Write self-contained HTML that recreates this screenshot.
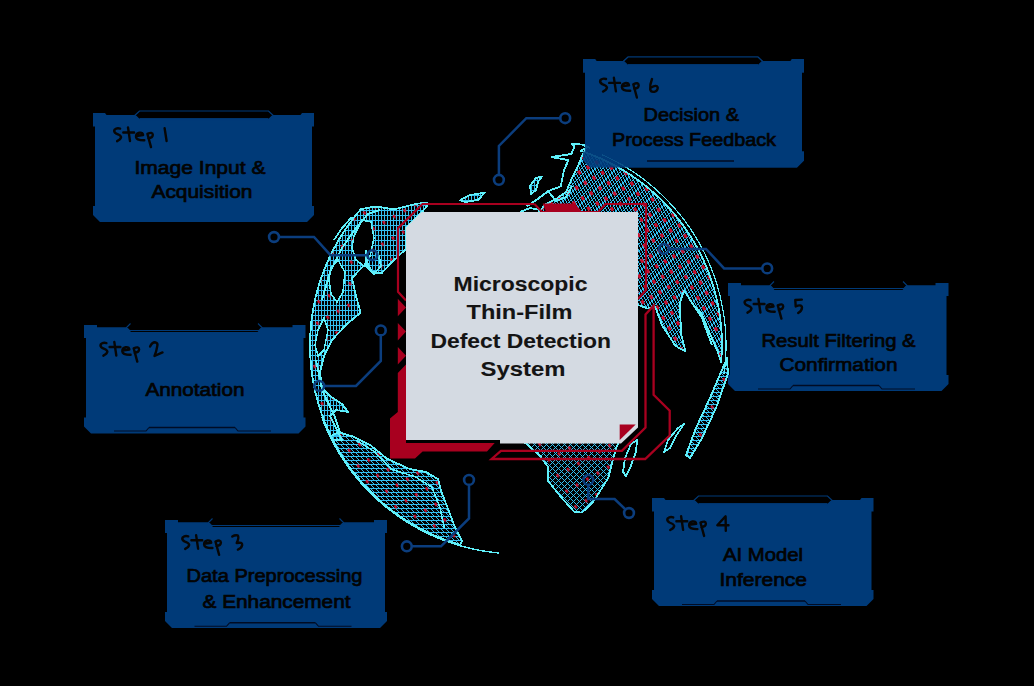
<!DOCTYPE html>
<html><head><meta charset="utf-8"><style>
html,body{margin:0;padding:0;background:#000;width:1034px;height:686px;overflow:hidden}
svg{display:block}
text{font-family:"Liberation Sans",sans-serif}
</style></head><body>
<svg width="1034" height="686" viewBox="0 0 1034 686">
<rect width="1034" height="686" fill="#000"/>
<path d="M583,59 H595 L596.5,61 H790.5 L792,59 H804 V72.5 H802 V151.5 H804 V160.5 L797,167.5 H590 L583,160.5 V151.5 H585 V72.5 H583 Z" fill="#003a78"/><path d="M623.5,61.2 L628.0,57 H758.0 L762.5,61.2 L758.0,65.6 H628.0 Z" fill="#000" stroke="#003a78" stroke-width="1.2"/><path d="M628.0,64.6 H758.0" stroke="#003a78" stroke-width="1"/><path d="M647,161 H734" stroke="#000c24" stroke-width="1.5"/>
<defs>
<pattern id="grid" width="21" height="42" patternUnits="userSpaceOnUse"><path d="M0,0h1v1h-1zM3,0h1v1h-1zM6,0h1v1h-1zM7,0h1v1h-1zM9,0h1v1h-1zM12,0h1v1h-1zM14,0h1v1h-1zM15,0h1v1h-1zM18,0h1v1h-1zM1,1h1v1h-1zM4,1h1v1h-1zM6,1h1v1h-1zM7,1h1v1h-1zM10,1h1v1h-1zM13,1h1v1h-1zM16,1h1v1h-1zM19,1h1v1h-1zM20,1h1v1h-1zM1,2h1v1h-1zM4,2h1v1h-1zM5,2h1v1h-1zM7,2h1v1h-1zM10,2h1v1h-1zM12,2h1v1h-1zM13,2h1v1h-1zM16,2h1v1h-1zM19,2h1v1h-1zM2,3h1v1h-1zM4,3h1v1h-1zM5,3h1v1h-1zM8,3h1v1h-1zM11,3h1v1h-1zM14,3h1v1h-1zM17,3h1v1h-1zM18,3h1v1h-1zM20,3h1v1h-1zM2,4h1v1h-1zM3,4h1v1h-1zM5,4h1v1h-1zM8,4h1v1h-1zM10,4h1v1h-1zM11,4h1v1h-1zM14,4h1v1h-1zM17,4h1v1h-1zM20,4h1v1h-1zM0,5h1v1h-1zM2,5h1v1h-1zM3,5h1v1h-1zM6,5h1v1h-1zM9,5h1v1h-1zM12,5h1v1h-1zM15,5h1v1h-1zM16,5h1v1h-1zM18,5h1v1h-1zM0,6h1v1h-1zM1,6h1v1h-1zM3,6h1v1h-1zM6,6h1v1h-1zM8,6h1v1h-1zM9,6h1v1h-1zM12,6h1v1h-1zM15,6h1v1h-1zM18,6h1v1h-1zM0,7h1v1h-1zM1,7h1v1h-1zM4,7h1v1h-1zM7,7h1v1h-1zM10,7h1v1h-1zM13,7h1v1h-1zM14,7h1v1h-1zM16,7h1v1h-1zM19,7h1v1h-1zM1,8h1v1h-1zM4,8h1v1h-1zM6,8h1v1h-1zM7,8h1v1h-1zM10,8h1v1h-1zM13,8h1v1h-1zM16,8h1v1h-1zM19,8h1v1h-1zM20,8h1v1h-1zM2,9h1v1h-1zM5,9h1v1h-1zM8,9h1v1h-1zM11,9h1v1h-1zM12,9h1v1h-1zM14,9h1v1h-1zM17,9h1v1h-1zM19,9h1v1h-1zM20,9h1v1h-1zM2,10h1v1h-1zM4,10h1v1h-1zM5,10h1v1h-1zM8,10h1v1h-1zM11,10h1v1h-1zM14,10h1v1h-1zM17,10h1v1h-1zM18,10h1v1h-1zM20,10h1v1h-1zM0,11h1v1h-1zM3,11h1v1h-1zM6,11h1v1h-1zM9,11h1v1h-1zM10,11h1v1h-1zM12,11h1v1h-1zM15,11h1v1h-1zM17,11h1v1h-1zM18,11h1v1h-1zM0,12h1v1h-1zM2,12h1v1h-1zM3,12h1v1h-1zM6,12h1v1h-1zM9,12h1v1h-1zM12,12h1v1h-1zM15,12h1v1h-1zM16,12h1v1h-1zM18,12h1v1h-1zM1,13h1v1h-1zM4,13h1v1h-1zM7,13h1v1h-1zM8,13h1v1h-1zM10,13h1v1h-1zM13,13h1v1h-1zM15,13h1v1h-1zM16,13h1v1h-1zM19,13h1v1h-1zM0,14h1v1h-1zM1,14h1v1h-1zM4,14h1v1h-1zM7,14h1v1h-1zM10,14h1v1h-1zM13,14h1v1h-1zM14,14h1v1h-1zM16,14h1v1h-1zM19,14h1v1h-1zM2,15h1v1h-1zM5,15h1v1h-1zM6,15h1v1h-1zM8,15h1v1h-1zM11,15h1v1h-1zM13,15h1v1h-1zM14,15h1v1h-1zM17,15h1v1h-1zM20,15h1v1h-1zM2,16h1v1h-1zM5,16h1v1h-1zM8,16h1v1h-1zM11,16h1v1h-1zM12,16h1v1h-1zM14,16h1v1h-1zM17,16h1v1h-1zM19,16h1v1h-1zM20,16h1v1h-1zM0,17h1v1h-1zM3,17h1v1h-1zM4,17h1v1h-1zM6,17h1v1h-1zM9,17h1v1h-1zM11,17h1v1h-1zM12,17h1v1h-1zM15,17h1v1h-1zM18,17h1v1h-1zM0,18h1v1h-1zM3,18h1v1h-1zM6,18h1v1h-1zM9,18h1v1h-1zM10,18h1v1h-1zM12,18h1v1h-1zM15,18h1v1h-1zM17,18h1v1h-1zM18,18h1v1h-1zM1,19h1v1h-1zM2,19h1v1h-1zM4,19h1v1h-1zM7,19h1v1h-1zM9,19h1v1h-1zM10,19h1v1h-1zM13,19h1v1h-1zM16,19h1v1h-1zM19,19h1v1h-1zM1,20h1v1h-1zM4,20h1v1h-1zM7,20h1v1h-1zM8,20h1v1h-1zM10,20h1v1h-1zM13,20h1v1h-1zM15,20h1v1h-1zM16,20h1v1h-1zM19,20h1v1h-1zM0,21h1v1h-1zM2,21h1v1h-1zM5,21h1v1h-1zM7,21h1v1h-1zM8,21h1v1h-1zM11,21h1v1h-1zM14,21h1v1h-1zM17,21h1v1h-1zM20,21h1v1h-1zM2,22h1v1h-1zM5,22h1v1h-1zM6,22h1v1h-1zM8,22h1v1h-1zM11,22h1v1h-1zM13,22h1v1h-1zM14,22h1v1h-1zM17,22h1v1h-1zM20,22h1v1h-1zM0,23h1v1h-1zM3,23h1v1h-1zM5,23h1v1h-1zM6,23h1v1h-1zM9,23h1v1h-1zM12,23h1v1h-1zM15,23h1v1h-1zM18,23h1v1h-1zM19,23h1v1h-1zM0,24h1v1h-1zM3,24h1v1h-1zM4,24h1v1h-1zM6,24h1v1h-1zM9,24h1v1h-1zM11,24h1v1h-1zM12,24h1v1h-1zM15,24h1v1h-1zM18,24h1v1h-1zM1,25h1v1h-1zM3,25h1v1h-1zM4,25h1v1h-1zM7,25h1v1h-1zM10,25h1v1h-1zM13,25h1v1h-1zM16,25h1v1h-1zM17,25h1v1h-1zM19,25h1v1h-1zM1,26h1v1h-1zM2,26h1v1h-1zM4,26h1v1h-1zM7,26h1v1h-1zM9,26h1v1h-1zM10,26h1v1h-1zM13,26h1v1h-1zM16,26h1v1h-1zM19,26h1v1h-1zM1,27h1v1h-1zM2,27h1v1h-1zM5,27h1v1h-1zM8,27h1v1h-1zM11,27h1v1h-1zM14,27h1v1h-1zM15,27h1v1h-1zM17,27h1v1h-1zM20,27h1v1h-1zM0,28h1v1h-1zM2,28h1v1h-1zM5,28h1v1h-1zM7,28h1v1h-1zM8,28h1v1h-1zM11,28h1v1h-1zM14,28h1v1h-1zM17,28h1v1h-1zM20,28h1v1h-1zM0,29h1v1h-1zM3,29h1v1h-1zM6,29h1v1h-1zM9,29h1v1h-1zM12,29h1v1h-1zM13,29h1v1h-1zM15,29h1v1h-1zM18,29h1v1h-1zM20,29h1v1h-1zM0,30h1v1h-1zM3,30h1v1h-1zM5,30h1v1h-1zM6,30h1v1h-1zM9,30h1v1h-1zM12,30h1v1h-1zM15,30h1v1h-1zM18,30h1v1h-1zM19,30h1v1h-1zM1,31h1v1h-1zM4,31h1v1h-1zM7,31h1v1h-1zM10,31h1v1h-1zM11,31h1v1h-1zM13,31h1v1h-1zM16,31h1v1h-1zM18,31h1v1h-1zM19,31h1v1h-1zM1,32h1v1h-1zM3,32h1v1h-1zM4,32h1v1h-1zM7,32h1v1h-1zM10,32h1v1h-1zM13,32h1v1h-1zM16,32h1v1h-1zM17,32h1v1h-1zM19,32h1v1h-1zM2,33h1v1h-1zM5,33h1v1h-1zM8,33h1v1h-1zM9,33h1v1h-1zM11,33h1v1h-1zM14,33h1v1h-1zM16,33h1v1h-1zM17,33h1v1h-1zM20,33h1v1h-1zM1,34h1v1h-1zM2,34h1v1h-1zM5,34h1v1h-1zM8,34h1v1h-1zM11,34h1v1h-1zM14,34h1v1h-1zM15,34h1v1h-1zM17,34h1v1h-1zM20,34h1v1h-1zM0,35h1v1h-1zM3,35h1v1h-1zM6,35h1v1h-1zM7,35h1v1h-1zM9,35h1v1h-1zM12,35h1v1h-1zM14,35h1v1h-1zM15,35h1v1h-1zM18,35h1v1h-1zM0,36h1v1h-1zM3,36h1v1h-1zM6,36h1v1h-1zM9,36h1v1h-1zM12,36h1v1h-1zM13,36h1v1h-1zM15,36h1v1h-1zM18,36h1v1h-1zM20,36h1v1h-1zM1,37h1v1h-1zM4,37h1v1h-1zM5,37h1v1h-1zM7,37h1v1h-1zM10,37h1v1h-1zM12,37h1v1h-1zM13,37h1v1h-1zM16,37h1v1h-1zM19,37h1v1h-1zM1,38h1v1h-1zM4,38h1v1h-1zM7,38h1v1h-1zM10,38h1v1h-1zM11,38h1v1h-1zM13,38h1v1h-1zM16,38h1v1h-1zM18,38h1v1h-1zM19,38h1v1h-1zM2,39h1v1h-1zM3,39h1v1h-1zM5,39h1v1h-1zM8,39h1v1h-1zM10,39h1v1h-1zM11,39h1v1h-1zM14,39h1v1h-1zM17,39h1v1h-1zM20,39h1v1h-1zM2,40h1v1h-1zM5,40h1v1h-1zM8,40h1v1h-1zM9,40h1v1h-1zM11,40h1v1h-1zM14,40h1v1h-1zM16,40h1v1h-1zM17,40h1v1h-1zM20,40h1v1h-1zM0,41h1v1h-1zM1,41h1v1h-1zM3,41h1v1h-1zM6,41h1v1h-1zM8,41h1v1h-1zM9,41h1v1h-1zM12,41h1v1h-1zM15,41h1v1h-1zM18,41h1v1h-1z" fill="#33bef0" shape-rendering="crispEdges"/></pattern>
<pattern id="gridA" width="3" height="5" patternUnits="userSpaceOnUse"><path d="M0,0h1v1h-1zM1,0h1v1h-1zM2,0h1v1h-1zM0,1h1v1h-1zM0,2h1v1h-1zM0,3h1v1h-1zM0,4h1v1h-1z" fill="#33bef0" shape-rendering="crispEdges"/></pattern>
<pattern id="grid2" width="5" height="4" patternUnits="userSpaceOnUse"><path d="M0,0h1v1h-1zM1,0h1v1h-1zM2,0h1v1h-1zM3,0h1v1h-1zM4,0h1v1h-1zM1,1h1v1h-1zM2,2h1v1h-1zM3,3h1v1h-1z" fill="#33bef0" shape-rendering="crispEdges"/></pattern>
<pattern id="gridD" width="6" height="6" patternUnits="userSpaceOnUse"><path d="M0,0h1v1h-1zM1,1h1v1h-1zM5,1h1v1h-1zM2,2h1v1h-1zM4,2h1v1h-1zM3,3h1v1h-1zM2,4h1v1h-1zM4,4h1v1h-1zM1,5h1v1h-1zM5,5h1v1h-1z" fill="#33bef0" shape-rendering="crispEdges"/></pattern>
<pattern shape-rendering="crispEdges" id="reddash" width="10" height="12" patternUnits="userSpaceOnUse" patternTransform="rotate(-30)">
<rect x="4" y="5" width="2.6" height="4" fill="#c8102e"/>
</pattern>
<pattern id="reddash2" width="12" height="18" patternUnits="userSpaceOnUse" patternTransform="rotate(-30)">
<rect x="4" y="5" width="2.4" height="3.4" fill="#c8102e"/>
</pattern>
</defs>
<g id="globe" shape-rendering="crispEdges">
<path d="M427.0,203.0 L418.0,203.5 L410.0,205.4 L394.0,209.4 L380.0,207.0 L371.7,207.0 L360.9,209.2 L356.2,214.7 L351.8,220.4 L347.5,226.3 L343.5,232.3 L339.6,238.4 L336.0,244.7 L332.6,251.1 L329.4,257.6 L326.5,264.2 L323.8,270.9 L321.3,277.7 L319.1,284.6 L317.1,291.6 L315.3,298.6 L313.8,305.7 L312.6,312.8 L311.5,320.0 L310.8,327.2 L310.3,334.4 L310.0,341.7 L310.0,348.9 L310.3,356.2 L310.8,363.4 L311.5,370.6 L312.6,377.8 L313.8,384.9 L315.3,392.0 L317.1,399.0 L319.1,406.0 L321.3,412.9 L323.8,419.7 L326.5,426.4 L329.4,433.0 L332.6,439.5 L342.0,440.0 L336.0,428.0 L330.0,416.0 L336.0,410.0 L348.0,412.0 L342.0,404.0 L330.0,396.0 L322.0,388.0 L320.0,372.0 L324.0,356.0 L332.0,340.0 L346.6,324.3 L360.6,312.6 L356.0,296.0 L352.0,278.0 L366.9,262.3 L371.7,271.9 L381.3,273.5 L391.0,263.0 L406.0,249.0 L406.0,228.0 L422.0,212.0 L427.0,206.0 Z" fill="url(#gridA)"/>
<path d="M427.0,203.0 L418.0,203.5 L410.0,205.4 L394.0,209.4 L380.0,207.0 L371.7,207.0 L360.9,209.2 L356.2,214.7 L351.8,220.4 L347.5,226.3 L343.5,232.3 L339.6,238.4 L336.0,244.7 L332.6,251.1 L329.4,257.6 L326.5,264.2 L323.8,270.9 L321.3,277.7 L319.1,284.6 L317.1,291.6 L315.3,298.6 L313.8,305.7 L312.6,312.8 L311.5,320.0 L310.8,327.2 L310.3,334.4 L310.0,341.7 L310.0,348.9 L310.3,356.2 L310.8,363.4 L311.5,370.6 L312.6,377.8 L313.8,384.9 L315.3,392.0 L317.1,399.0 L319.1,406.0 L321.3,412.9 L323.8,419.7 L326.5,426.4 L329.4,433.0 L332.6,439.5 L342.0,440.0 L336.0,428.0 L330.0,416.0 L336.0,410.0 L348.0,412.0 L342.0,404.0 L330.0,396.0 L322.0,388.0 L320.0,372.0 L324.0,356.0 L332.0,340.0 L346.6,324.3 L360.6,312.6 L356.0,296.0 L352.0,278.0 L366.9,262.3 L371.7,271.9 L381.3,273.5 L391.0,263.0 L406.0,249.0 L406.0,228.0 L422.0,212.0 L427.0,206.0 Z" fill="url(#reddash2)"/>
<path d="M538.0,212.7 L546.0,204.0 L556.0,199.0 L566.0,192.0 L572.0,178.0 L578.0,166.0 L582.0,156.0 L586.0,148.0 L580.7,150.8 L587.4,153.1 L594.1,155.7 L600.7,158.5 L607.1,161.5 L613.5,164.7 L619.8,168.2 L625.9,171.9 L631.9,175.8 L637.7,179.9 L643.4,184.2 L649.0,188.6 L654.3,193.3 L659.6,198.2 L664.6,203.2 L669.5,208.5 L674.2,213.8 L678.6,219.4 L682.9,225.1 L687.0,230.9 L690.9,236.9 L694.6,243.1 L698.1,249.3 L701.3,255.7 L704.3,262.1 L707.1,268.7 L709.7,275.4 L712.0,282.1 L714.1,288.9 L715.9,295.8 L717.5,302.8 L718.9,309.8 L720.0,316.8 L720.9,323.9 L721.5,331.0 L721.9,338.2 L722.0,345.3 L721.9,352.4 L721.0,362.0 L717.6,351.6 L708.9,331.2 L701.6,313.7 L694.3,306.4 L684.1,290.4 L679.7,303.5 L681.2,334.0 L685.6,351.6 L675.4,345.8 L662.2,325.4 L655.0,306.4 L647.7,308.6 L638.2,305.0 L620.0,305.0 L620.0,212.7 Z" fill="url(#grid)"/>
<path d="M538.0,212.7 L546.0,204.0 L556.0,199.0 L566.0,192.0 L572.0,178.0 L578.0,166.0 L582.0,156.0 L586.0,148.0 L580.7,150.8 L587.4,153.1 L594.1,155.7 L600.7,158.5 L607.1,161.5 L613.5,164.7 L619.8,168.2 L625.9,171.9 L631.9,175.8 L637.7,179.9 L643.4,184.2 L649.0,188.6 L654.3,193.3 L659.6,198.2 L664.6,203.2 L669.5,208.5 L674.2,213.8 L678.6,219.4 L682.9,225.1 L687.0,230.9 L690.9,236.9 L694.6,243.1 L698.1,249.3 L701.3,255.7 L704.3,262.1 L707.1,268.7 L709.7,275.4 L712.0,282.1 L714.1,288.9 L715.9,295.8 L717.5,302.8 L718.9,309.8 L720.0,316.8 L720.9,323.9 L721.5,331.0 L721.9,338.2 L722.0,345.3 L721.9,352.4 L721.0,362.0 L717.6,351.6 L708.9,331.2 L701.6,313.7 L694.3,306.4 L684.1,290.4 L679.7,303.5 L681.2,334.0 L685.6,351.6 L675.4,345.8 L662.2,325.4 L655.0,306.4 L647.7,308.6 L638.2,305.0 L620.0,305.0 L620.0,212.7 Z" fill="url(#reddash)"/>
<path d="M460.0,200.3 L470.0,195.0 L484.9,192.6 L478.0,200.0 L465.0,202.0 Z" fill="url(#gridA)"/>
<path d="M460.0,200.3 L470.0,195.0 L484.9,192.6 L478.0,200.0 L465.0,202.0 Z" fill="url(#reddash2)"/>
<path d="M531.0,194.0 L530.0,186.0 L536.0,178.0 L542.0,176.4 L538.0,182.0 L536.0,190.0 Z" fill="url(#gridA)"/>
<path d="M531.0,194.0 L530.0,186.0 L536.0,178.0 L542.0,176.4 L538.0,182.0 L536.0,190.0 Z" fill="url(#reddash2)"/>
<path d="M727.0,358.0 L728.0,374.0 L716.0,408.0 L702.0,438.0 L690.0,458.0 L686.0,455.0 L696.0,428.0 L710.0,398.0 L721.0,372.0 Z" fill="url(#grid2)"/>
<path d="M727.0,358.0 L728.0,374.0 L716.0,408.0 L702.0,438.0 L690.0,458.0 L686.0,455.0 L696.0,428.0 L710.0,398.0 L721.0,372.0 Z" fill="url(#reddash2)"/>
<path d="M338.2,432.2 L352.4,436.3 L370.8,445.5 L387.0,458.8 L409.6,469.0 L426.0,472.0 L438.2,479.2 L441.2,491.4 L448.4,509.8 L454.5,526.0 L462.0,541.0 L460.3,544.8 L453.4,542.6 L446.5,540.3 L439.8,537.7 L433.1,534.9 L426.5,531.8 L420.1,528.5 L413.8,525.0 L407.5,521.3 L401.5,517.3 L395.5,513.2 L389.8,508.8 L384.1,504.3 L378.7,499.5 L373.4,494.6 L368.2,489.4 L363.3,484.1 L358.5,478.7 L354.0,473.0 L349.6,467.3 L345.5,461.3 L341.5,455.3 L337.8,449.1 L334.3,442.7 L331.0,436.3 Z" fill="url(#grid2)"/>
<path d="M338.2,432.2 L352.4,436.3 L370.8,445.5 L387.0,458.8 L409.6,469.0 L426.0,472.0 L438.2,479.2 L441.2,491.4 L448.4,509.8 L454.5,526.0 L462.0,541.0 L460.3,544.8 L453.4,542.6 L446.5,540.3 L439.8,537.7 L433.1,534.9 L426.5,531.8 L420.1,528.5 L413.8,525.0 L407.5,521.3 L401.5,517.3 L395.5,513.2 L389.8,508.8 L384.1,504.3 L378.7,499.5 L373.4,494.6 L368.2,489.4 L363.3,484.1 L358.5,478.7 L354.0,473.0 L349.6,467.3 L345.5,461.3 L341.5,455.3 L337.8,449.1 L334.3,442.7 L331.0,436.3 Z" fill="url(#reddash2)"/>
<path d="M520.0,440.0 L526.3,443.7 L540.2,456.1 L548.0,467.0 L548.0,480.9 L560.3,496.3 L574.3,511.8 L582.0,512.6 L592.8,502.5 L600.6,490.2 L608.3,477.8 L611.4,465.4 L616.0,448.4 L619.1,442.2 L619.0,436.0 L520.0,436.0 Z" fill="url(#gridD)"/>
<path d="M520.0,440.0 L526.3,443.7 L540.2,456.1 L548.0,467.0 L548.0,480.9 L560.3,496.3 L574.3,511.8 L582.0,512.6 L592.8,502.5 L600.6,490.2 L608.3,477.8 L611.4,465.4 L616.0,448.4 L619.1,442.2 L619.0,436.0 L520.0,436.0 Z" fill="url(#reddash2)"/>
<path d="M354.0,236.0 L362.0,220.0 L371.0,222.0 L374.0,238.0 L370.0,256.0 L364.0,266.0 L356.0,260.0 L352.0,248.0 Z" fill="#000" stroke="#5ff0fa" stroke-width="1.5"/>
<path d="M331.0,268.0 L338.0,260.0 L345.0,272.0 L343.0,292.0 L337.0,302.0 L331.0,294.0 L329.0,280.0 Z" fill="#000" stroke="#5ff0fa" stroke-width="1.5"/>
<path d="M318.0,330.0 L324.0,318.0 L328.0,330.0 L324.0,350.0 L318.0,356.0 L315.0,345.0 Z" fill="#000" stroke="#5ff0fa" stroke-width="1.5"/>
<path d="M427.0,203.0 L418.0,203.5 L410.0,205.4 L394.0,209.4 L380.0,207.0 L371.7,207.0 L360.9,209.2 L356.2,214.7 L351.8,220.4 L347.5,226.3 L343.5,232.3 L339.6,238.4 L336.0,244.7 L332.6,251.1 L329.4,257.6 L326.5,264.2 L323.8,270.9 L321.3,277.7 L319.1,284.6 L317.1,291.6 L315.3,298.6 L313.8,305.7 L312.6,312.8 L311.5,320.0 L310.8,327.2 L310.3,334.4 L310.0,341.7 L310.0,348.9 L310.3,356.2 L310.8,363.4 L311.5,370.6 L312.6,377.8 L313.8,384.9 L315.3,392.0 L317.1,399.0 L319.1,406.0 L321.3,412.9 L323.8,419.7 L326.5,426.4 L329.4,433.0 L332.6,439.5 L342.0,440.0 L336.0,428.0 L330.0,416.0 L336.0,410.0 L348.0,412.0 L342.0,404.0 L330.0,396.0 L322.0,388.0 L320.0,372.0 L324.0,356.0 L332.0,340.0 L346.6,324.3 L360.6,312.6 L356.0,296.0 L352.0,278.0 L366.9,262.3 L371.7,271.9 L381.3,273.5 L391.0,263.0 L406.0,249.0 L406.0,228.0 L422.0,212.0 L427.0,206.0 Z" fill="none" stroke="#5ff0fa" stroke-width="1.8" stroke-linejoin="round"/>
<path d="M538.0,212.7 L546.0,204.0 L556.0,199.0 L566.0,192.0 L572.0,178.0 L578.0,166.0 L582.0,156.0 L586.0,148.0 L580.7,150.8 L587.4,153.1 L594.1,155.7 L600.7,158.5 L607.1,161.5 L613.5,164.7 L619.8,168.2 L625.9,171.9 L631.9,175.8 L637.7,179.9 L643.4,184.2 L649.0,188.6 L654.3,193.3 L659.6,198.2 L664.6,203.2 L669.5,208.5 L674.2,213.8 L678.6,219.4 L682.9,225.1 L687.0,230.9 L690.9,236.9 L694.6,243.1 L698.1,249.3 L701.3,255.7 L704.3,262.1 L707.1,268.7 L709.7,275.4 L712.0,282.1 L714.1,288.9 L715.9,295.8 L717.5,302.8 L718.9,309.8 L720.0,316.8 L720.9,323.9 L721.5,331.0 L721.9,338.2 L722.0,345.3 L721.9,352.4 L721.0,362.0 L717.6,351.6 L708.9,331.2 L701.6,313.7 L694.3,306.4 L684.1,290.4 L679.7,303.5 L681.2,334.0 L685.6,351.6 L675.4,345.8 L662.2,325.4 L655.0,306.4 L647.7,308.6 L638.2,305.0 L620.0,305.0 L620.0,212.7 Z" fill="none" stroke="#5ff0fa" stroke-width="1.8" stroke-linejoin="round"/>
<path d="M338.2,432.2 L352.4,436.3 L370.8,445.5 L387.0,458.8 L409.6,469.0 L426.0,472.0 L438.2,479.2 L441.2,491.4 L448.4,509.8 L454.5,526.0 L462.0,541.0 L460.3,544.8 L453.4,542.6 L446.5,540.3 L439.8,537.7 L433.1,534.9 L426.5,531.8 L420.1,528.5 L413.8,525.0 L407.5,521.3 L401.5,517.3 L395.5,513.2 L389.8,508.8 L384.1,504.3 L378.7,499.5 L373.4,494.6 L368.2,489.4 L363.3,484.1 L358.5,478.7 L354.0,473.0 L349.6,467.3 L345.5,461.3 L341.5,455.3 L337.8,449.1 L334.3,442.7 L331.0,436.3 Z" fill="none" stroke="#5ff0fa" stroke-width="1.8" stroke-linejoin="round"/>
<path d="M520.0,440.0 L526.3,443.7 L540.2,456.1 L548.0,467.0 L548.0,480.9 L560.3,496.3 L574.3,511.8 L582.0,512.6 L592.8,502.5 L600.6,490.2 L608.3,477.8 L611.4,465.4 L616.0,448.4 L619.1,442.2 L619.0,436.0 L520.0,436.0 Z" fill="none" stroke="#5ff0fa" stroke-width="1.8" stroke-linejoin="round"/>
<path d="M623.0,472.0 L625.0,458.0 L631.0,444.0 L637.0,440.0 L636.0,452.0 L630.0,468.0 L626.0,476.0 Z" fill="none" stroke="#5ff0fa" stroke-width="1.8" stroke-linejoin="round"/>
<path d="M727.0,358.0 L728.0,374.0 L716.0,408.0 L702.0,438.0 L690.0,458.0 L686.0,455.0 L696.0,428.0 L710.0,398.0 L721.0,372.0 Z" fill="none" stroke="#5ff0fa" stroke-width="1.8" stroke-linejoin="round"/>
<path d="M664.0,452.0 L668.0,440.0 L678.0,428.0 L684.0,424.0 L676.0,436.0 L670.0,448.0 Z" fill="none" stroke="#5ff0fa" stroke-width="1.8" stroke-linejoin="round"/>
<path d="M460.0,200.3 L470.0,195.0 L484.9,192.6 L478.0,200.0 L465.0,202.0 Z" fill="none" stroke="#5ff0fa" stroke-width="1.8" stroke-linejoin="round"/>
<path d="M531.0,194.0 L530.0,186.0 L536.0,178.0 L542.0,176.4 L538.0,182.0 L536.0,190.0 Z" fill="none" stroke="#5ff0fa" stroke-width="1.8" stroke-linejoin="round"/>
<path d="M356.5,440.4 L375.0,452.0 L391.0,469.0 L415.7,477.0 L432.0,487.3 L440.0,507.8 L444.3,528.0" fill="none" stroke="#5ff0fa" stroke-width="1.5"/>
<path d="M322.0,300.0 L330.0,272.0 L342.0,248.0 L356.0,228.0 L368.0,214.0 L380.0,210.0" fill="none" stroke="#5ff0fa" stroke-width="1.9" stroke-linejoin="round"/>
<path d="M366.0,250.0 L366.0,266.0 L374.0,274.0 L381.0,266.0 L378.0,252.0" fill="none" stroke="#5ff0fa" stroke-width="1.9" stroke-linejoin="round"/>
<path d="M316.0,360.0 L322.0,390.0 L334.0,415.0 L340.0,432.0" fill="none" stroke="#5ff0fa" stroke-width="1.9" stroke-linejoin="round"/>
<path d="M526.7,206.5 L536.0,200.3 L548.3,191.0 L560.7,186.4 L563.8,171.0 L568.4,160.1 L551.4,157.0 L571.5,154.0 L574.6,146.2 L571.5,143.9 L582.4,144.6 L590.0,148.0" fill="none" stroke="#5ff0fa" stroke-width="1.9" stroke-linejoin="round"/>
<path d="M520.0,212.0 L530.0,208.0 L540.0,210.0" fill="none" stroke="#5ff0fa" stroke-width="1.9" stroke-linejoin="round"/>
<path d="M548.0,191.0 L556.0,201.0 L566.0,197.0 L572.0,186.0" fill="none" stroke="#5ff0fa" stroke-width="1.9" stroke-linejoin="round"/>
<path d="M334.0,240.0 L342.0,228.0 L352.0,217.0" fill="none" stroke="#5ff0fa" stroke-width="1.9" stroke-linejoin="round"/>
<path d="M690.0,300.0 L702.0,318.0 L712.0,345.0" fill="none" stroke="#5ff0fa" stroke-width="1.9" stroke-linejoin="round"/>
<path d="M602.3,154.8 L608.9,157.9 L615.4,161.2 L621.8,164.7 L628.0,168.5 L634.1,172.4 L640.1,176.6 L645.9,181.0 L651.5,185.6 L657.0,190.4 L662.3,195.3 L667.5,200.5 L672.4,205.8 L677.2,211.3 L681.8,216.9 L686.2,222.7 L690.4,228.7 L694.3,234.8 L698.1,241.1 L701.6,247.4 L704.9,253.9 L708.0,260.5 L710.8,267.2 L713.4,274.0 L715.8,280.9 L717.9,287.8 L719.8,294.9 L721.4,302.0 L722.8,309.1 L724.0,316.3 L724.9,323.5 L725.5,330.8 L725.9,338.0 L726.0,345.3 L725.9,352.6 L725.5,359.8 L724.9,367.1 L724.0,374.3" fill="none" stroke="#5ff0fa" stroke-width="1.2"/>
<path d="M499.3,553.0 L492.0,552.2 L484.7,551.2 L477.4,549.9 L470.2,548.4 L463.0,546.5 L455.9,544.5 L448.9,542.2 L441.9,539.6 L435.1,536.8 L428.4,533.8 L421.7,530.5 L415.2,527.0 L408.9,523.3 L402.6,519.3 L396.5,515.1 L390.6,510.7 L384.8,506.1 L379.2,501.3 L373.7,496.3 L368.5,491.1 L363.4,485.7 L358.5,480.2 L353.8,474.5 L349.4,468.6 L345.1,462.6 L341.0,456.4 L337.2,450.0 L333.6,443.6 L330.3,437.0 L327.1,430.3 L324.2,423.5 L321.6,416.6" fill="none" stroke="#5ff0fa" stroke-width="1.4"/>
</g>
<path d="M638,299 L646,290 V204 H605.5 L598.5,211.8 M534.5,204 H422.5 L398,228.3 V291.7 L406,300.4" fill="none" stroke="#a8001f" stroke-width="2.2"/><path d="M542.7,203.5 H575 L582,212 H546 Z" fill="#a8001f"/><path d="M534.5,204 L542,212 H600" fill="none" stroke="#a8001f" stroke-width="2"/><path d="M397.8,298.7 L406,307.4 L397.8,316.2 Z" fill="#a8001f"/><path d="M397.8,322.9 L406,331.59999999999997 L397.8,340.4 Z" fill="#a8001f"/><path d="M397.8,347 L406,355.7 L397.8,364.5 Z" fill="#a8001f"/><path d="M406,364.6 L397.8,373 V412 L390,418.5 V458.4 H415 L422.6,451.5 H487 L494.7,443 H406 Z" fill="#a8001f"/><path d="M645.5,314.5 V427.6 L621.9,450.9 H500.9 L491.6,459 H645.2 L669.7,435.6 V410.8 L653.6,394.8 V305.7 Z" fill="none" stroke="#a8001f" stroke-width="2.3" stroke-linejoin="miter"/>
<g opacity="0.88"><path d="M583,59 H595 L596.5,61 H790.5 L792,59 H804 V72.5 H802 V151.5 H804 V160.5 L797,167.5 H590 L583,160.5 V151.5 H585 V72.5 H583 Z" fill="#003a78"/><path d="M623.5,61.2 L628.0,57 H758.0 L762.5,61.2 L758.0,65.6 H628.0 Z" fill="#000" stroke="#003a78" stroke-width="1.2"/><path d="M628.0,64.6 H758.0" stroke="#003a78" stroke-width="1"/></g><path d="M647,161 H734" stroke="#000c24" stroke-width="1.5"/>
<path d="M421.7,212 H638 V427.6 L621,443.5 H500 L500,440 H406 V227.5 Z" fill="#d4dae2"/><path d="M619.7,424.6 H635.7 L619.7,440 Z" fill="#a8001f"/>
<text x="453.5" y="290.5" font-size="19.4" font-weight="bold" textLength="134" lengthAdjust="spacingAndGlyphs" fill="#141414" stroke="#141414" stroke-width="0.1">Microscopic</text><text x="466.5" y="318.8" font-size="19.4" font-weight="bold" textLength="106" lengthAdjust="spacingAndGlyphs" fill="#141414" stroke="#141414" stroke-width="0.1">Thin-Film</text><text x="430.5" y="347.8" font-size="19.4" font-weight="bold" textLength="180.5" lengthAdjust="spacingAndGlyphs" fill="#141414" stroke="#141414" stroke-width="0.1">Defect Detection</text><text x="480.5" y="375.6" font-size="19.4" font-weight="bold" textLength="85" lengthAdjust="spacingAndGlyphs" fill="#141414" stroke="#141414" stroke-width="0.1">System</text>
<path d="M279,237 L314,237 L330.5,255.2 L367.5,255.2" fill="none" stroke="#0b3d7d" stroke-width="2.5"/><circle cx="274" cy="237" r="4.9" fill="none" stroke="#0b3d7d" stroke-width="2.6"/><circle cx="372.4" cy="255.2" r="4.9" fill="none" stroke="#0b3d7d" stroke-width="2.6"/><path d="M380.8,335 L380.8,361 L356,385.9 L324,385.9" fill="none" stroke="#0b3d7d" stroke-width="2.5"/><circle cx="380.8" cy="330.4" r="4.9" fill="none" stroke="#0b3d7d" stroke-width="2.6"/><circle cx="319.2" cy="385.9" r="4.9" fill="none" stroke="#0b3d7d" stroke-width="2.6"/><path d="M469,484.8 L469,518.4 L441,546.3 L411.8,546.3" fill="none" stroke="#0b3d7d" stroke-width="2.5"/><circle cx="469" cy="479.9" r="4.9" fill="none" stroke="#0b3d7d" stroke-width="2.6"/><circle cx="406.8" cy="546.3" r="4.9" fill="none" stroke="#0b3d7d" stroke-width="2.6"/><path d="M588.3,484.8 L588.3,499 L614.6,499 L625.5,509.5" fill="none" stroke="#0b3d7d" stroke-width="2.5"/><circle cx="588.3" cy="479.9" r="4.9" fill="none" stroke="#0b3d7d" stroke-width="2.6"/><circle cx="629" cy="513" r="4.9" fill="none" stroke="#0b3d7d" stroke-width="2.6"/><path d="M668.8,248.9 L706,248.9 L724.1,268.4 L762.3,268.4" fill="none" stroke="#0b3d7d" stroke-width="2.5"/><circle cx="663.9" cy="248.9" r="4.9" fill="none" stroke="#0b3d7d" stroke-width="2.6"/><circle cx="767.2" cy="268.4" r="4.9" fill="none" stroke="#0b3d7d" stroke-width="2.6"/><path d="M560.3,118.2 L526.3,118.2 L498.9,145.9 L498.9,175" fill="none" stroke="#0b3d7d" stroke-width="2.5"/><circle cx="565.2" cy="118.2" r="4.9" fill="none" stroke="#0b3d7d" stroke-width="2.6"/><circle cx="498.9" cy="179.8" r="4.9" fill="none" stroke="#0b3d7d" stroke-width="2.6"/>
<path d="M93,113 H105 L106.5,115 H300.5 L302,113 H314 V126.5 H312 V206 H314 V215 L307,222 H100 L93,215 V206 H95 V126.5 H93 Z" fill="#003a78"/><path d="M135,115.2 L139.5,111 H268.5 L273,115.2 L268.5,119.6 H139.5 Z" fill="#000" stroke="#003a78" stroke-width="1.2"/><path d="M139.5,118.6 H268.5" stroke="#003a78" stroke-width="1"/><path d="M84,325 H97 V327.2 H126.5 L131.0,332 H257.5 L262,327.2 H292.5 V325 H305.5 V338 H303.5 V417.5 H305.5 V426.5 L298.5,433.5 H91 L84,426.5 V417.5 H86 V338 H84 Z" fill="#003a78"/><path d="M130.5,323.5 L126.5,327.5 L129.5,330.5 H259 L262,327.5 L258,323.5" fill="none" stroke="#003a78" stroke-width="1.1"/><path d="M149,427.5 H235" stroke="#000c24" stroke-width="1.5"/><path d="M149,427.5 L146,431.0 H114 M235,427.5 L238,431.0 H271" fill="none" stroke="#000c24" stroke-width="1.1"/><path d="M165,520 H178 V522.2 H208.5 L213.0,527 H339.0 L343.5,522.2 H374 V520 H387 V533 H385 V612 H387 V621 L380,628 H172 L165,621 V612 H167 V533 H165 Z" fill="#003a78"/><path d="M212.5,518.5 L208.5,522.5 L211.5,525.5 H340.5 L343.5,522.5 L339.5,518.5" fill="none" stroke="#003a78" stroke-width="1.1"/><path d="M229.5,622.8 H315.5" stroke="#000c24" stroke-width="1.5"/><path d="M229.5,622.8 L226.5,626.3 H194.5 M315.5,622.8 L318.5,626.3 H351.5" fill="none" stroke="#000c24" stroke-width="1.1"/><path d="M652,498 H664 L665.5,500 H860.0 L861.5,498 H873.5 V511.5 H871.5 V590 H873.5 V599 L866.5,606 H659 L652,599 V590 H654 V511.5 H652 Z" fill="#003a78"/><path d="M694,500.2 L698.5,496 H827.5 L832,500.2 L827.5,504.6 H698.5 Z" fill="#000" stroke="#003a78" stroke-width="1.2"/><path d="M698.5,503.6 H827.5" stroke="#003a78" stroke-width="1"/><path d="M717,601 H805" stroke="#000c24" stroke-width="1.5"/><path d="M717,601 L714,604.5 H682 M805,601 L808,604.5 H841" fill="none" stroke="#000c24" stroke-width="1.1"/><path d="M728,283 H741 V285.2 H770 L774.5,290 H902.5 L907,285.2 H935.5 V283 H948.5 V296 H946.5 V375 H948.5 V384 L941.5,391 H735 L728,384 V375 H730 V296 H728 Z" fill="#003a78"/><path d="M774,281.5 L770,285.5 L773,288.5 H904 L907,285.5 L903,281.5" fill="none" stroke="#003a78" stroke-width="1.1"/><path d="M793,385.5 H879" stroke="#000c24" stroke-width="1.5"/><path d="M793,385.5 L790,389.0 H758 M879,385.5 L882,389.0 H915" fill="none" stroke="#000c24" stroke-width="1.1"/>
<text x="134.5" y="173.8" font-size="18.2" font-weight="normal" textLength="131" lengthAdjust="spacingAndGlyphs" fill="#030303" stroke="#030303" stroke-width="0.7">Image Input &amp;</text><text x="151.5" y="198.4" font-size="18.2" font-weight="normal" textLength="101" lengthAdjust="spacingAndGlyphs" fill="#030303" stroke="#030303" stroke-width="0.7">Acquisition</text><text x="145.5" y="396.4" font-size="18.2" font-weight="normal" textLength="99" lengthAdjust="spacingAndGlyphs" fill="#030303" stroke="#030303" stroke-width="0.7">Annotation</text><text x="186.5" y="582.3" font-size="18.2" font-weight="normal" textLength="176" lengthAdjust="spacingAndGlyphs" fill="#030303" stroke="#030303" stroke-width="0.7">Data Preprocessing</text><text x="202.5" y="608.3" font-size="18.2" font-weight="normal" textLength="148" lengthAdjust="spacingAndGlyphs" fill="#030303" stroke="#030303" stroke-width="0.7">&amp; Enhancement</text><text x="723" y="560.9" font-size="18.2" font-weight="normal" textLength="80" lengthAdjust="spacingAndGlyphs" fill="#030303" stroke="#030303" stroke-width="0.7">AI Model</text><text x="719.5" y="586.4" font-size="18.2" font-weight="normal" textLength="87.5" lengthAdjust="spacingAndGlyphs" fill="#030303" stroke="#030303" stroke-width="0.7">Inference</text><text x="761.5" y="346.6" font-size="18.2" font-weight="normal" textLength="154" lengthAdjust="spacingAndGlyphs" fill="#030303" stroke="#030303" stroke-width="0.7">Result Filtering &amp;</text><text x="779.5" y="371.4" font-size="18.2" font-weight="normal" textLength="118" lengthAdjust="spacingAndGlyphs" fill="#030303" stroke="#030303" stroke-width="0.7">Confirmation</text><text x="643.5" y="120.6" font-size="18.2" font-weight="normal" textLength="95.5" lengthAdjust="spacingAndGlyphs" fill="#030303" stroke="#030303" stroke-width="0.7">Decision &amp;</text><text x="612" y="146.2" font-size="18.2" font-weight="normal" textLength="164" lengthAdjust="spacingAndGlyphs" fill="#030303" stroke="#030303" stroke-width="0.7">Process Feedback</text>
<path transform="translate(113.8,127.4)" d="M6.3,1.2 Q3,0.2 0.8,2.2 Q-0.5,4.5 2.5,6.3 Q7,8 7.3,9.8 Q7,12 3.3,13.8 M14.2,0 L16.2,13.6 M9.5,5.1 L20.3,5.1 M22.3,8.6 L29.3,7.6 Q29,5 25.5,5.3 Q22,6 22.2,9.5 Q22.5,13 30.5,12.9 M33.6,6.5 L37.2,19.7 M33.6,6.5 Q38.8,4 39,7.5 Q38.8,10.5 34.5,11 M50.8,0.7 L52.8,13.6" fill="none" stroke="#060606" stroke-width="2.4" stroke-linecap="round" stroke-linejoin="round"/>
<path transform="translate(100.1,341.9)" d="M6.3,1.2 Q3,0.2 0.8,2.2 Q-0.5,4.5 2.5,6.3 Q7,8 7.3,9.8 Q7,12 3.3,13.8 M14.2,0 L16.2,13.6 M9.5,5.1 L20.3,5.1 M22.3,8.6 L29.3,7.6 Q29,5 25.5,5.3 Q22,6 22.2,9.5 Q22.5,13 30.5,12.9 M33.6,6.5 L37.2,19.7 M33.6,6.5 Q38.8,4 39,7.5 Q38.8,10.5 34.5,11 M50,4.7 Q52,0.2 55.1,0.4 Q57.8,1 57.3,3.5 Q56.5,9 54.4,14.1 L62.4,10.5" fill="none" stroke="#060606" stroke-width="2.4" stroke-linecap="round" stroke-linejoin="round"/>
<path transform="translate(181.9,535.1)" d="M6.3,1.2 Q3,0.2 0.8,2.2 Q-0.5,4.5 2.5,6.3 Q7,8 7.3,9.8 Q7,12 3.3,13.8 M14.2,0 L16.2,13.6 M9.5,5.1 L20.3,5.1 M22.3,8.6 L29.3,7.6 Q29,5 25.5,5.3 Q22,6 22.2,9.5 Q22.5,13 30.5,12.9 M33.6,6.5 L37.2,19.7 M33.6,6.5 Q38.8,4 39,7.5 Q38.8,10.5 34.5,11 M50.4,1.4 Q53,-0.3 55.8,0.3 Q57.5,2 54.8,7.9 Q60.6,6.8 60.3,10 Q59.5,13.5 56,14.5" fill="none" stroke="#060606" stroke-width="2.4" stroke-linecap="round" stroke-linejoin="round"/>
<path transform="translate(666.9,516.2)" d="M6.3,1.2 Q3,0.2 0.8,2.2 Q-0.5,4.5 2.5,6.3 Q7,8 7.3,9.8 Q7,12 3.3,13.8 M14.2,0 L16.2,13.6 M9.5,5.1 L20.3,5.1 M22.3,8.6 L29.3,7.6 Q29,5 25.5,5.3 Q22,6 22.2,9.5 Q22.5,13 30.5,12.9 M33.6,6.5 L37.2,19.7 M33.6,6.5 Q38.8,4 39,7.5 Q38.8,10.5 34.5,11 M58.4,0.3 L50.4,9 L61.6,9 M58.7,0.3 L58.9,14.5" fill="none" stroke="#060606" stroke-width="2.4" stroke-linecap="round" stroke-linejoin="round"/>
<path transform="translate(744.2,298.9)" d="M6.3,1.2 Q3,0.2 0.8,2.2 Q-0.5,4.5 2.5,6.3 Q7,8 7.3,9.8 Q7,12 3.3,13.8 M14.2,0 L16.2,13.6 M9.5,5.1 L20.3,5.1 M22.3,8.6 L29.3,7.6 Q29,5 25.5,5.3 Q22,6 22.2,9.5 Q22.5,13 30.5,12.9 M33.6,6.5 L37.2,19.7 M33.6,6.5 Q38.8,4 39,7.5 Q38.8,10.5 34.5,11 M57.6,0.7 L51.1,1.1 L51.5,7.6 Q56,5.5 57.6,7.5 Q58.5,11.5 54,14.1" fill="none" stroke="#060606" stroke-width="2.4" stroke-linecap="round" stroke-linejoin="round"/>
<path transform="translate(599.7,77.8)" d="M6.3,1.2 Q3,0.2 0.8,2.2 Q-0.5,4.5 2.5,6.3 Q7,8 7.3,9.8 Q7,12 3.3,13.8 M14.2,0 L16.2,13.6 M9.5,5.1 L20.3,5.1 M22.3,8.6 L29.3,7.6 Q29,5 25.5,5.3 Q22,6 22.2,9.5 Q22.5,13 30.5,12.9 M33.6,6.5 L37.2,19.7 M33.6,6.5 Q38.8,4 39,7.5 Q38.8,10.5 34.5,11 M52.3,1.2 Q50,7 50.5,11.5 Q51,14.5 54.5,14 Q58.3,13 58,9.5 Q57,6.5 51,10" fill="none" stroke="#060606" stroke-width="2.4" stroke-linecap="round" stroke-linejoin="round"/>
</svg></body></html>
